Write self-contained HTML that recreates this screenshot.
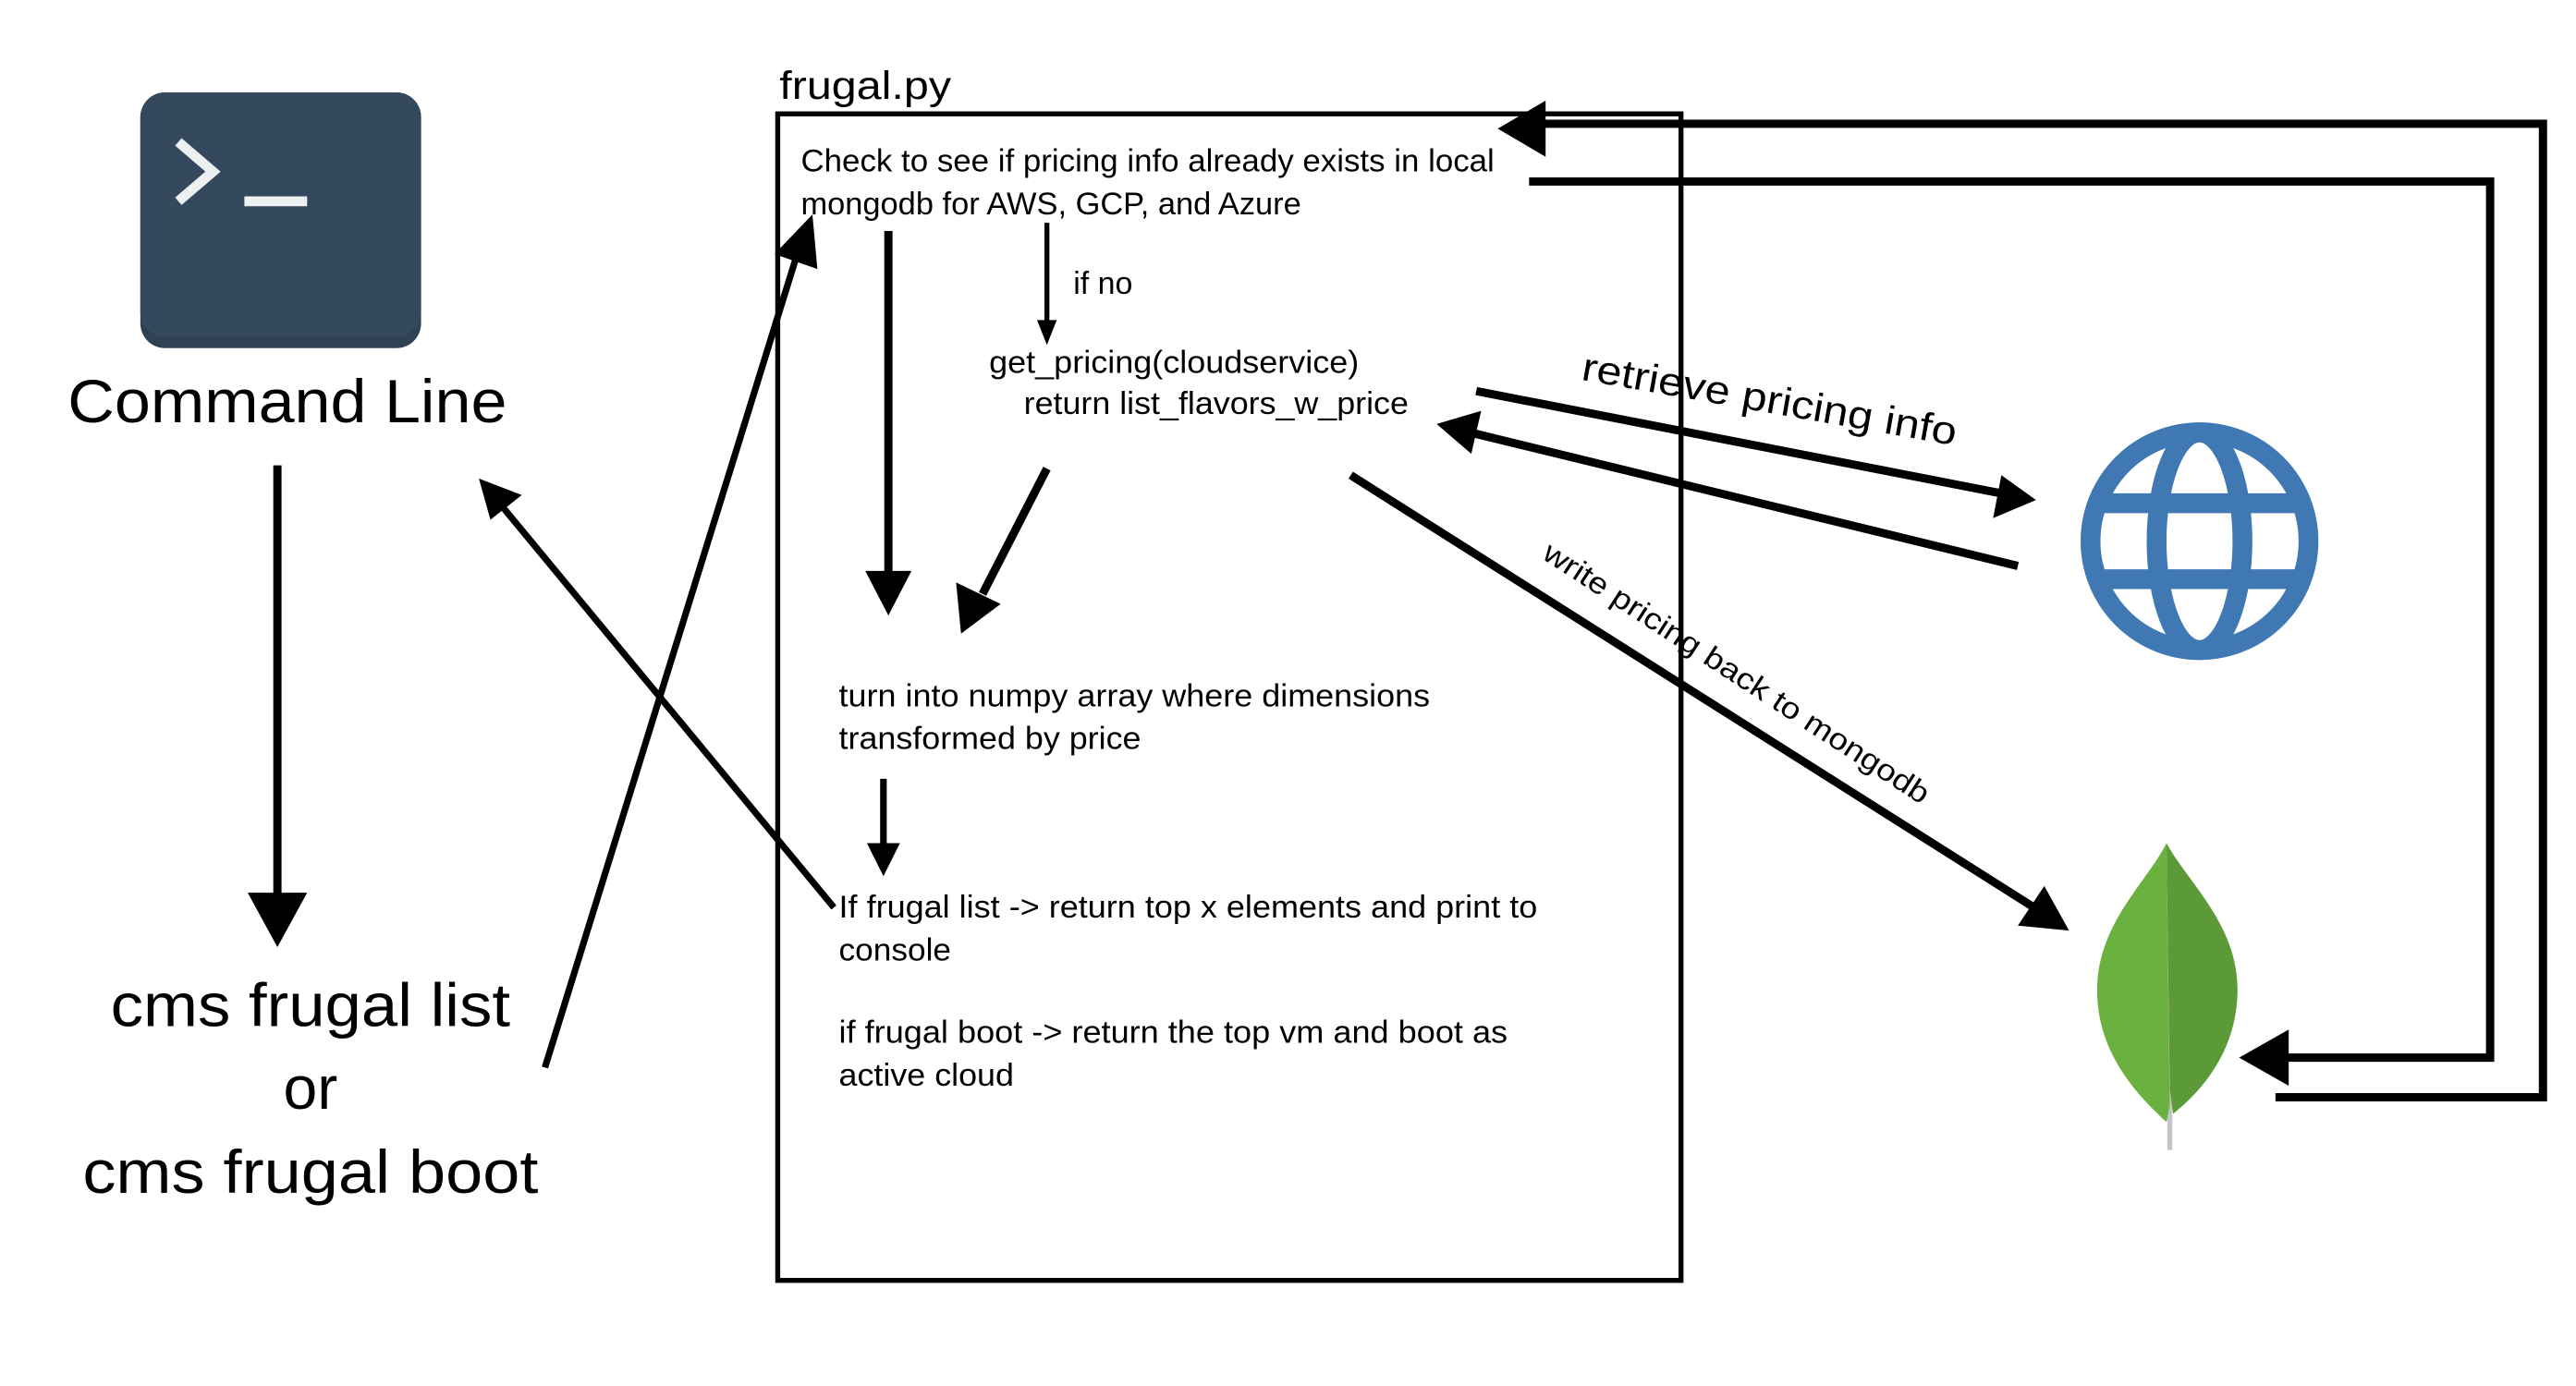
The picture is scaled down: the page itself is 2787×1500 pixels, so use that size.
<!DOCTYPE html>
<html><head><meta charset="utf-8"><style>
html,body{margin:0;padding:0;background:#fff;}
svg{display:block;}
text{font-family:"Liberation Sans",sans-serif;fill:#000;}
</style></head><body>
<svg width="2787" height="1500" viewBox="0 0 1560 840" preserveAspectRatio="none" xmlns="http://www.w3.org/2000/svg">
<rect width="1560" height="840" fill="#fff"/>
<!-- terminal icon -->
<rect x="85" y="56" width="170" height="155" rx="15" fill="#2f4254"/>
<rect x="85" y="56" width="170" height="148" rx="15" fill="#35495e"/>
<polyline points="108,86 129,104 108,122" fill="none" stroke="#ecf0f1" stroke-width="6"/>
<rect x="148" y="119" width="38" height="6" fill="#ecf0f1"/>
<text x="174" y="256" font-size="37" text-anchor="middle" textLength="266" lengthAdjust="spacingAndGlyphs">Command Line</text>
<!-- down arrow -->
<line x1="168" y1="282" x2="168" y2="545" stroke="#000" stroke-width="5"/>
<polygon points="150,541 186,541 168,574" fill="#000"/>
<text x="188" y="622" font-size="37" text-anchor="middle" textLength="242" lengthAdjust="spacingAndGlyphs">cms frugal list</text>
<text x="188" y="672" font-size="37" text-anchor="middle">or</text>
<text x="188" y="723" font-size="37" text-anchor="middle" textLength="276" lengthAdjust="spacingAndGlyphs">cms frugal boot</text>
<!-- line to box -->
<line x1="330" y1="647" x2="484" y2="150" stroke="#000" stroke-width="4"/>
<polygon points="492,130 495,163 469,154" fill="#000"/>
<!-- line back to command line -->
<line x1="505" y1="550" x2="305" y2="308" stroke="#000" stroke-width="4"/>
<polygon points="290,290 316,300 297,315" fill="#000"/>
<!-- box -->
<text x="472" y="60" font-size="24" textLength="104" lengthAdjust="spacingAndGlyphs">frugal.py</text>
<rect x="471" y="69" width="547" height="707" fill="none" stroke="#000" stroke-width="3"/>
<text x="485" y="104" font-size="19" textLength="420" lengthAdjust="spacingAndGlyphs">Check to see if pricing info already exists in local</text>
<text x="485" y="130" font-size="19" textLength="303" lengthAdjust="spacingAndGlyphs">mongodb for AWS, GCP, and Azure</text>
<line x1="634" y1="135" x2="634" y2="198" stroke="#000" stroke-width="3"/>
<polygon points="628,194 640,194 634,209" fill="#000"/>
<text x="650" y="178" font-size="19">if no</text>
<text x="599" y="226" font-size="19" textLength="224" lengthAdjust="spacingAndGlyphs">get_pricing(cloudservice)</text>
<text x="620" y="251" font-size="19" textLength="233" lengthAdjust="spacingAndGlyphs">return list_flavors_w_price</text>
<line x1="538" y1="140" x2="538" y2="350" stroke="#000" stroke-width="5"/>
<polygon points="524,346 552,346 538,373" fill="#000"/>
<line x1="634" y1="284" x2="595" y2="360" stroke="#000" stroke-width="5"/>
<polygon points="582,384 579,353 606,366" fill="#000"/>
<text x="508" y="428" font-size="19" textLength="358" lengthAdjust="spacingAndGlyphs">turn into numpy array where dimensions</text>
<text x="508" y="454" font-size="19" textLength="183" lengthAdjust="spacingAndGlyphs">transformed by price</text>
<line x1="535" y1="472" x2="535" y2="515" stroke="#000" stroke-width="4"/>
<polygon points="525,511 545,511 535,531" fill="#000"/>
<text x="508" y="556" font-size="19" textLength="423" lengthAdjust="spacingAndGlyphs">If frugal list -&gt; return top x elements and print to</text>
<text x="508" y="582" font-size="19" textLength="68" lengthAdjust="spacingAndGlyphs">console</text>
<text x="508" y="632" font-size="19" textLength="405" lengthAdjust="spacingAndGlyphs">if frugal boot -&gt; return the top vm and boot as</text>
<text x="508" y="658" font-size="19" textLength="106" lengthAdjust="spacingAndGlyphs">active cloud</text>
<!-- retrieve arrows -->
<line x1="894" y1="237" x2="1212" y2="299" stroke="#000" stroke-width="5"/>
<polygon points="1233,303 1207,314 1212,288" fill="#000"/>
<line x1="1222" y1="343" x2="890" y2="262" stroke="#000" stroke-width="5"/>
<polygon points="870,257 897,249 891,275" fill="#000"/>
<text x="957" y="230" font-size="24" transform="rotate(10 957 230)" textLength="230" lengthAdjust="spacingAndGlyphs">retrieve pricing info</text>
<!-- write arrow -->
<line x1="818" y1="288" x2="1235" y2="552" stroke="#000" stroke-width="5"/>
<polygon points="1253,564 1222,561 1238,537" fill="#000"/>
<text x="933" y="338" font-size="18" transform="rotate(33 933 338)" textLength="275" lengthAdjust="spacingAndGlyphs">write pricing back to mongodb</text>
<!-- globe -->
<g fill="none" stroke="#3f78b2" stroke-width="12">
<ellipse cx="1332" cy="328" rx="66" ry="66"/>
<ellipse cx="1332" cy="328" rx="26" ry="66"/>
<line x1="1266" y1="305" x2="1398" y2="305"/>
<line x1="1266" y1="351" x2="1398" y2="351"/>
</g>
<!-- leaf -->
<line x1="1314" y1="660" x2="1314" y2="697" stroke="#c4c4c4" stroke-width="3"/>
<path d="M1312,511 C1300,535 1270,560 1270,600 C1270,635 1290,660 1312,680 L1314,670 Z" fill="#6ab140"/>
<path d="M1312,511 C1325,535 1355,560 1355,600 C1355,635 1335,660 1316,675 L1314,660 Z" fill="#5b9a37"/>
<!-- feedback loops -->
<polyline points="926,110 1508,110 1508,641 1385,641" fill="none" stroke="#000" stroke-width="5"/>
<polygon points="1356,641 1386,624 1386,658" fill="#000"/>
<polyline points="1378,665 1540,665 1540,75 935,75" fill="none" stroke="#000" stroke-width="5"/>
<polygon points="907,78 936,61 936,95" fill="#000"/>
</svg>
</body></html>
